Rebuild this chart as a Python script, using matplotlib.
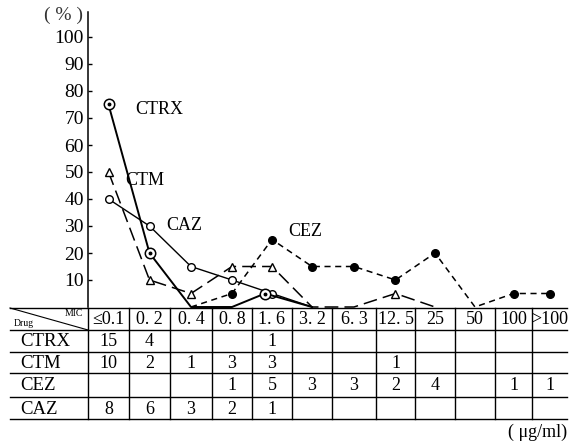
import numpy as np
from matplotlib import pyplot as plt

# MIC columns (ug/ml) and table counts
mic_labels = ['≤0.1', '0. 2', '0. 4', '0. 8', '1. 6', '3. 2', '6. 3',
              '12. 5', '25', '50', '100', '>100']
drugs = ['CTRX', 'CTM', 'CEZ', 'CAZ']
counts = {
    'CTRX': [15, 4, '', '', 1, '', '', '', '', '', '', ''],
    'CTM': [10, 2, 1, 3, 3, '', '', 1, '', '', '', ''],
    'CEZ': ['', '', '', 1, 5, 3, 3, 2, 4, '', 1, 1],
    'CAZ': [8, 6, 3, 2, 1, '', '', '', '', '', '', ''],
}

# percentages
ctrx_pct = [75, 20, 0, 0, 5, 0]
ctm_pct = [50, 10, 5, 15, 15, 0, 0, 5, 0]
cez_pct = [0, 5, 25, 15, 15, 10, 20, 0, 5, 5]
caz_pct = [40, 30, 15, 10, 5, 0]
cez_start = 2

# layout (pixels)
W, H = 583, 446
col_widths = [41, 41, 42, 40, 40, 40, 44, 39, 40, 40, 37, 35]
x0 = 88
y_base = 307
row_lines = [308, 330, 352, 373, 397, 419]
px_per_unit = 2.7
ctrx_nudge = [0, 0, 0, 0, -7, 0]  # CTRX marker at 1.6 sits left of CAZ

plt.rcParams['font.family'] = 'Liberation Serif'

fig = plt.figure(figsize=(W / 100, H / 100), dpi=100)
fig.patch.set_facecolor('white')

edges = np.concatenate([[0], np.cumsum(col_widths)])
centers = (edges[:-1] + edges[1:]) / 2

ax = fig.add_axes([x0 / W, (H - y_base) / H, edges[-1] / W, (y_base - 12) / H])
ax.set_xlim(0, edges[-1])
ax.set_ylim(0, (y_base - 12) / px_per_unit)
for s in ['top', 'right', 'bottom']:
    ax.spines[s].set_visible(False)
ax.spines['left'].set_linewidth(1.1)
ax.set_xticks([])
ax.set_yticks(range(10, 101, 10))
ax.tick_params(axis='y', direction='in', length=3, width=1, labelsize=14, pad=3)
ax.patch.set_alpha(0)


def nonzero(vals):
    return [i for i, v in enumerate(vals) if v != 0]


# CTRX
ctrx_x = centers[:len(ctrx_pct)] + np.array(ctrx_nudge)
ax.plot(ctrx_x, ctrx_pct, color='black', lw=1.4,
        marker='o', ms=7.5, mfc='white', mec='black', mew=1.1,
        markevery=nonzero(ctrx_pct), clip_on=False, zorder=5)
ax.plot(ctrx_x, ctrx_pct, ls='none', marker='o', ms=1.8,
        color='black', markevery=nonzero(ctrx_pct), clip_on=False, zorder=6)
# CTM
ax.plot(centers[:len(ctm_pct)], ctm_pct, color='black', lw=1.1, dashes=(9, 4),
        marker='^', ms=5.5, mfc='white', mec='black', mew=1,
        markevery=nonzero(ctm_pct), clip_on=False, zorder=3)
# CEZ
cx = centers[cez_start:cez_start + len(cez_pct)]
ax.plot(cx, cez_pct, color='black', lw=1.1, dashes=(4, 3),
        marker='o', ms=5.5, mfc='black', mec='black',
        markevery=nonzero(cez_pct), clip_on=False, zorder=3)
# CAZ
ax.plot(centers[:len(caz_pct)], caz_pct, color='black', lw=1.0,
        marker='o', ms=5.5, mfc='white', mec='black', mew=1,
        markevery=nonzero(caz_pct), clip_on=False, zorder=4)

ax.text(47, 73, 'CTRX', fontsize=13, va='center')
ax.text(37, 47, 'CTM', fontsize=13, va='center')
ax.text(78, 30, 'CAZ', fontsize=13, va='center')
ax.text(200, 28, 'CEZ', fontsize=13, va='center')

# table drawn in pixel coordinates
tax = fig.add_axes([0, 0, 1, 1])
tax.set_xlim(0, W)
tax.set_ylim(H, 0)
tax.axis('off')
tax.patch.set_alpha(0)

for y in row_lines:
    tax.plot([10, x0 + edges[-1]], [y, y], color='black', lw=1.0)
for e in edges[:-1]:
    tax.plot([x0 + e, x0 + e], [row_lines[0], row_lines[-1]], color='black', lw=1.0)
tax.plot([10, x0], [row_lines[0], row_lines[1]], color='black', lw=0.8)
tax.text(x0 - 5, row_lines[0] + 5, 'MIC', fontsize=7, ha='right', va='center')
tax.text(14, row_lines[1] - 6, 'Drug', fontsize=7, ha='left', va='center')

for j, lab in enumerate(mic_labels):
    tax.text(x0 + centers[j], (row_lines[0] + row_lines[1]) / 2 + 1, lab,
             fontsize=13, ha='center', va='center')

for i, d in enumerate(drugs):
    yc = (row_lines[i + 1] + row_lines[i + 2]) / 2 + 1
    tax.text(20, yc, d, fontsize=13.5, ha='left', va='center')
    for j, v in enumerate(counts[d]):
        if v != '':
            tax.text(x0 + centers[j], yc, str(v), fontsize=13, ha='center', va='center')

tax.text(64, 15, '( % )', fontsize=14, ha='center', va='center', color='#333333')
tax.text(567, 432, '( μg/ml)', fontsize=13, ha='right', va='center')

fig.savefig('out.png', dpi=100)
